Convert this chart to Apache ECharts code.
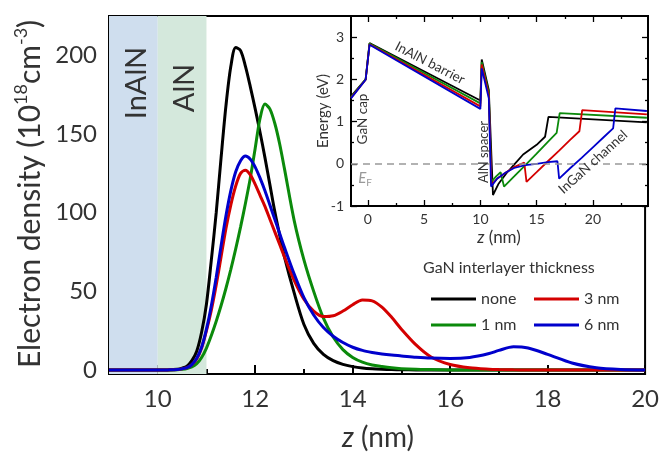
<!DOCTYPE html>
<html>
<head>
<meta charset="utf-8">
<script src="https://cdn.jsdelivr.net/npm/echarts@6/dist/echarts.min.js"></script>
<style>
  html, body { margin: 0; padding: 0; background: #fff; }
  #chart { width: 662px; height: 457px; }
</style>
</head>
<body>
<div id="chart"></div>
<script>
// main panel: electron density vs z
const zMain = [9, 10, 10.2, 10.4, 10.5, 10.6, 10.7, 10.8, 10.9, 11.0, 11.1, 11.2, 11.3, 11.4, 11.5, 11.6, 11.7, 11.8, 11.9, 12.0,
  12.1, 12.2, 12.3, 12.4, 12.5, 12.6, 12.8, 13.0, 13.2, 13.4, 13.6, 13.8, 14.0, 14.2, 14.4, 14.6, 14.8, 15.0,
  15.3, 15.6, 16.0, 16.4, 16.8, 17.0, 17.3, 17.6, 18.0, 18.5, 19.0, 19.5, 20.0];
const densityNone = [0, 0, 0.1, 0.5, 1.2, 2.5, 6, 12, 24, 42, 70, 100, 135, 168, 193, 205, 203, 193, 180, 166,
  151, 135, 118, 101, 86, 72, 49, 29, 17, 10, 6, 3.6, 2.2, 1.3, 0.8, 0.5, 0.3, 0.2,
  0.1, 0, 0, 0, 0, 0, 0, 0, 0, 0, 0, 0, 0];
const density1nm = [0, 0, 0, 0.2, 0.5, 1, 2, 4, 8, 14, 22, 31, 41, 52, 64, 77, 91, 106, 122, 141,
  160, 169, 166, 157, 144, 128, 95, 70, 50, 33, 21, 13, 8, 5, 3.2, 2.2, 1.4, 0.9,
  0.5, 0.3, 0.1, 0, 0, 0, 0, 0, 0, 0, 0, 0, 0];
const density3nm = [0, 0, 0.1, 0.3, 0.8, 1.5, 3.5, 7, 14, 25, 38, 54, 72, 90, 105, 117, 125, 127, 124, 118,
  111, 104, 96, 88, 80, 72, 57, 45, 37.5, 34, 34.5, 37.5, 41.5, 44.5, 44, 40, 33.5, 26,
  16, 8.5, 3.5, 1.4, 0.5, 0.3, 0.15, 0.1, 0, 0, 0, 0, 0];
const density6nm = [0, 0, 0.1, 0.3, 0.8, 1.5, 3.5, 7.5, 14.5, 26, 41, 59, 79, 98, 114, 126, 133, 136, 134, 129,
  122, 114, 105, 96, 87, 78, 61, 46, 35, 27, 21.5, 17.5, 14.5, 12.5, 11.2, 10.2, 9.5, 9,
  8.2, 7.6, 7.3, 8.0, 10.5, 12.5, 14.8, 14, 10, 4.5, 1.5, 0.4, 0.1];

// inset: conduction band edge [z (nm), energy (eV)]
const bandNone = [[-1.5, 1.6], [-0.2, 2.0], [0.15, 2.86], [10.0, 1.5], [10.12, 2.47], [10.75, 1.75], [11.12, -0.74],
  [11.6, -0.48], [12.3, -0.23], [13.0, -0.02], [13.8, 0.22], [15.0, 0.45], [15.75, 0.64], [16.05, 1.11], [24.8, 0.98]];
const band1nm = [[-1.5, 1.58], [-0.2, 2.0], [0.15, 2.85], [10.0, 1.43], [10.12, 2.41], [10.75, 1.68], [10.98, -0.43],
  [11.4, -0.3], [11.8, -0.2], [12.1, -0.54], [13.0, -0.3], [14.0, -0.03], [15.0, 0.24], [16.0, 0.52], [16.78, 0.73],
  [17.05, 1.2], [24.8, 1.09]];
const band3nm = [[-1.5, 1.56], [-0.2, 1.99], [0.15, 2.83], [10.0, 1.36], [10.12, 2.35], [10.75, 1.62], [10.98, -0.5],
  [11.5, -0.35], [12.3, -0.2], [13.0, -0.08], [13.9, 0.03], [14.1, -0.43], [15.0, -0.2], [16.0, 0.06], [17.0, 0.31],
  [18.0, 0.57], [18.8, 0.77], [19.05, 1.27], [24.8, 1.17]];
const band6nm = [[-1.5, 1.55], [-0.2, 1.99], [0.15, 2.82], [10.0, 1.3], [10.12, 2.26], [10.75, 1.55], [10.95, -0.54],
  [11.5, -0.35], [12.3, -0.2], [13.0, -0.1], [14.0, -0.03], [15.0, 0.0], [16.0, 0.04], [16.85, 0.06], [17.0, -0.35],
  [18.0, -0.1], [19.0, 0.14], [20.0, 0.39], [21.0, 0.64], [21.8, 0.84], [22.0, 1.31], [24.8, 1.25]];

const names = ['none', '1 nm', '3 nm', '6 nm'];
const colors = ['#000000', '#0b8a0b', '#d40000', '#0000cc'];

// ticks
const mainXMajor = [10, 12, 14, 16, 18, 20];
const mainXMinor = [11, 13, 15, 17, 19];
const mainYMajor = [0, 50, 100, 150, 200];
const mainYMinor = [25, 75, 125, 175];
const insetXMajor = [0, 5, 10, 15, 20];
const insetXMinor = [2.5, 7.5, 12.5, 17.5, 22.5];
const insetYMajor = [-1, 0, 1, 2, 3];
const insetYMinor = [-0.5, 0.5, 1.5, 2.5];

const FONT = 'Lato, "Open Sans", sans-serif';
const INK = '#333';

const zip = (xs, ys) => xs.map((x, i) => [x, ys[i]]);

// a bare axis that only draws ticks
const tickAxis = (gridIndex, range, ticks, len, position, width) => ({
  type: 'value', gridIndex, position, min: range[0], max: range[1],
  axisLine: { show: false, onZero: false },
  axisTick: { inside: true, length: len, customValues: ticks, lineStyle: { color: '#000', width } },
  axisLabel: { show: false },
  splitLine: { show: false },
});

// axis with its line and labels
const labelAxis = (gridIndex, range, ticks, len, position, width, fontSize, margin) => ({
  ...tickAxis(gridIndex, range, ticks, len, position, width),
  axisLine: { show: true, onZero: false, lineStyle: { color: '#000', width: 2 } },
  axisLabel: { show: true, customValues: ticks, fontSize, margin, color: INK, fontFamily: FONT },
});

const mainX = [9, 20], mainY = [-2.5, 225];
const insetX = [-1.5, 24.9], insetY = [-1, 3.5];

const densities = [densityNone, density1nm, density3nm, density6nm];
const bands = [bandNone, band1nm, band3nm, band6nm];

const series = [
  {
    // layer shading
    type: 'line', name: 'layers', xAxisIndex: 0, yAxisIndex: 0, data: [], silent: true,
    markArea: {
      silent: true,
      data: [
        [{ xAxis: 9, itemStyle: { color: '#cfdeee' } }, { xAxis: 10 }],
        [{ xAxis: 10, itemStyle: { color: '#d4e8dc' } }, { xAxis: 11 }],
      ],
    },
  },
  {
    // Fermi level
    type: 'line', name: 'ef', xAxisIndex: 2, yAxisIndex: 2, data: [], silent: true,
    markLine: {
      silent: true, symbol: 'none', label: { show: false },
      lineStyle: { type: [7, 5], color: '#999', width: 1.5 },
      data: [{ yAxis: 0 }],
    },
  },
];
names.forEach((name, i) => {
  series.push({
    type: 'line', name, xAxisIndex: 0, yAxisIndex: 0, color: colors[i],
    data: zip(zMain, densities[i]), showSymbol: false, symbol: 'none',
    smooth: 0.3, lineStyle: { width: 3 },
  });
});
names.forEach((name, i) => {
  series.push({
    type: 'line', name, xAxisIndex: 2, yAxisIndex: 2, color: colors[i],
    data: bands[i], showSymbol: false, symbol: 'none', lineStyle: { width: 1.8 },
  });
});

const legendBase = {
  orient: 'vertical', top: 286, itemWidth: 45, itemHeight: 3, itemGap: 10, icon: 'rect',
  textStyle: { fontSize: 16, color: INK, fontFamily: FONT },
  selectedMode: false,
};

const txt = (text, x, y, fontSize, rotation, extra = {}) => ({
  type: 'text', x, y, z: 100, rotation: rotation || 0, silent: true,
  style: { text, fontSize, fontFamily: FONT, fill: INK, align: 'center', verticalAlign: 'middle', ...extra },
});

const option = {
  animation: false,
  backgroundColor: '#fff',
  grid: [
    { left: 109, top: 16, width: 539, height: 358, show: true, borderColor: '#000', borderWidth: 2 },
    { left: 351, top: 16, width: 297, height: 190, show: true, backgroundColor: '#fff', borderColor: '#000', borderWidth: 2 },
  ],
  xAxis: [
    labelAxis(0, mainX, mainXMajor, 9, 'bottom', 2, 24, 13),
    tickAxis(0, mainX, mainXMinor, 5, 'bottom', 2),
    labelAxis(1, insetX, insetXMajor, 6, 'bottom', 1.3, 14, 6),
    tickAxis(1, insetX, insetXMinor, 3, 'bottom', 1.3),
    tickAxis(1, insetX, insetXMajor, 6, 'top', 1.3),
    tickAxis(1, insetX, insetXMinor, 3, 'top', 1.3),
  ],
  yAxis: [
    labelAxis(0, mainY, mainYMajor, 9, 'left', 2, 24, 12),
    tickAxis(0, mainY, mainYMinor, 5, 'left', 2),
    labelAxis(1, insetY, insetYMajor, 6, 'left', 1.3, 14, 7),
    tickAxis(1, insetY, insetYMinor, 3, 'left', 1.3),
    tickAxis(1, insetY, insetYMajor, 6, 'right', 1.3),
    tickAxis(1, insetY, insetYMinor, 3, 'right', 1.3),
  ],
  legend: [
    { ...legendBase, left: 426, data: ['none', '1 nm'] },
    { ...legendBase, left: 529, data: ['3 nm', '6 nm'] },
  ],
  graphic: [
    txt('Electron density (10{sup|18}cm{sup|-3})', 30, 194, 30, Math.PI / 2, {
      rich: { sup: { fontSize: 18, fontFamily: FONT, fill: INK, verticalAlign: 'top', lineHeight: 18 } },
      lineHeight: 36,
    }),
    txt('{it|z} (nm)', 378, 438, 28, 0, {
      rich: { it: { fontSize: 28, fontFamily: FONT, fill: INK, fontStyle: 'italic' } },
    }),
    txt('InAlN', 137, 83, 29, Math.PI / 2),
    txt('AlN', 184.5, 88, 29, Math.PI / 2),
    txt('Energy (eV)', 323, 111, 15, Math.PI / 2),
    txt('{it|z} (nm)', 499, 238, 17, 0, {
      rich: { it: { fontSize: 17, fontFamily: FONT, fill: INK, fontStyle: 'italic' } },
    }),
    txt('InAlN barrier', 430, 63, 13.5, -27.4 * Math.PI / 180),
    txt('GaN cap', 363, 119, 13.5, Math.PI / 2),
    txt('AlN spacer', 484, 152, 13, Math.PI / 2),
    txt('InGaN channel', 593, 162, 13.5, 42 * Math.PI / 180),
    txt('{e|E}{f|F}', 365, 178, 15, 0, {
      rich: {
        e: { fontSize: 15, fontFamily: FONT, fill: '#999', fontStyle: 'italic', lineHeight: 20 },
        f: { fontSize: 10, fontFamily: FONT, fill: '#999', verticalAlign: 'bottom', lineHeight: 12 },
      },
    }),
    txt('GaN interlayer thickness', 423, 268, 16, 0, { align: 'left' }),
  ],
  series,
};

const chart = echarts.init(document.getElementById('chart'), null, { renderer: 'canvas' });
chart.setOption(option);
</script>
</body>
</html>
